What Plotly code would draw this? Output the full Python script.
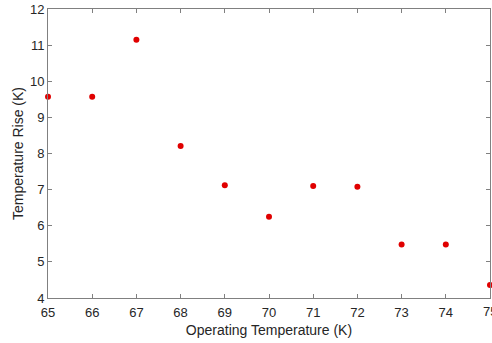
import plotly.graph_objects as go

op_temp = [65, 66, 67, 68, 69, 70, 71, 72, 73, 74, 75]
temp_rise = [9.57, 9.57, 11.15, 8.21, 7.12, 6.25, 7.10, 7.08, 5.48, 5.48, 4.36]
x_ticks = list(range(65, 76))

font = "Liberation Sans, Arial"
fig = go.Figure()
fig.add_trace(go.Scatter(x=op_temp, y=temp_rise, mode="markers",
                         marker=dict(color="#e00000", size=6), cliponaxis=False))

axis_common = dict(showline=True, linecolor="#808080", linewidth=1, mirror="ticks",
                   ticks="inside", ticklen=4, tickcolor="#808080", showgrid=False,
                   zeroline=False, tickfont=dict(family=font, size=13, color="#262626"))

fig.update_layout(
    width=492, height=343,
    margin=dict(l=48, r=2, t=9, b=45),
    plot_bgcolor="white", paper_bgcolor="white",
    showlegend=False,
    xaxis=dict(range=[65, 75], tickvals=x_ticks[:-1], ticklabelstandoff=2, **axis_common,
               title=dict(text="Operating Temperature (K)", standoff=6,
                          font=dict(family=font, size=14, color="#262626"))),
    yaxis=dict(range=[4, 12], dtick=1, **axis_common,
               title=dict(text="Temperature Rise (K)", standoff=3,
                          font=dict(family=font, size=14, color="#262626"))),
)
# last tick label sits at the right edge and is partly cut off, as in the reference
fig.add_annotation(x=x_ticks[-1], y=0, xref="x", yref="paper", yanchor="top",
                   yshift=-4, text=str(x_ticks[-1]), showarrow=False,
                   font=dict(family=font, size=13, color="#262626"))
fig.write_html("out.html", config={"displayModeBar": False},
               post_script="document.body.style.margin='0';")
